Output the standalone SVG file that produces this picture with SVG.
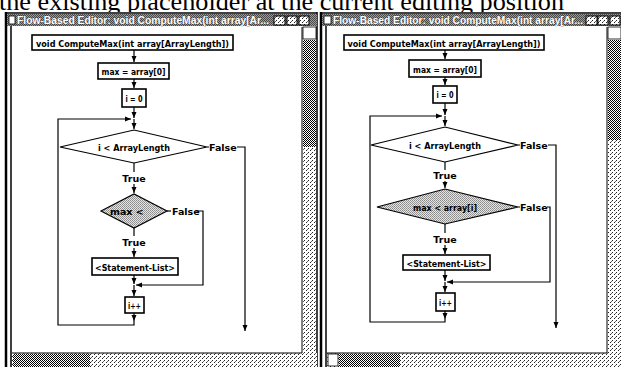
<svg xmlns="http://www.w3.org/2000/svg" width="621" height="367" viewBox="0 0 621 367">
  <defs>
    <!-- ordered-dither fills used by the window chrome -->
    <pattern id="dither50" width="2" height="2" patternUnits="userSpaceOnUse">
      <rect width="2" height="2" fill="#fff"/>
      <rect width="1" height="1" fill="#000"/>
      <rect x="1" y="1" width="1" height="1" fill="#000"/>
    </pattern>
    <pattern id="dither25" width="4" height="4" patternUnits="userSpaceOnUse">
      <rect width="4" height="4" fill="#fff"/>
      <rect width="1" height="1" fill="#222"/>
      <rect x="2" y="2" width="1" height="1" fill="#222"/>
      <rect x="3" y="1" width="1" height="1" fill="#666"/>
    </pattern>
    <pattern id="ditherTitle" width="2" height="2" patternUnits="userSpaceOnUse">
      <rect width="2" height="2" fill="#9a9a9a"/>
      <rect width="1" height="1" fill="#4a4a4a"/>
      <rect x="1" y="1" width="1" height="1" fill="#4a4a4a"/>
    </pattern>
    <pattern id="ditherSel" width="2" height="2" patternUnits="userSpaceOnUse">
      <rect width="2" height="2" fill="#e4e4e4"/>
      <rect width="1" height="1" fill="#8a8a8a"/>
      <rect x="1" y="1" width="1" height="1" fill="#9a9a9a"/>
    </pattern>
    <marker id="ah" viewBox="0 0 6 6" refX="6" refY="3" markerWidth="6" markerHeight="6" markerUnits="userSpaceOnUse" orient="auto">
      <path d="M0,0.5 L6,3 L0,5.5 Z" fill="#000"/>
    </marker>
    <style>
      .heading { font-family: "Liberation Serif", serif; font-size: 26px; fill: #000; }
      .title { font-family: "Liberation Sans", Arial, sans-serif; font-size: 10px; font-weight: bold; fill: #fff; stroke: #111; stroke-width: 0.35px; paint-order: stroke; }
      .node { fill: #fff; stroke: #000; stroke-width: 1.6; }
      .cond { fill: #fff; stroke: #000; stroke-width: 1.2; }
      .condsel { fill: url(#ditherSel); stroke: #000; stroke-width: 1.2; }
      .lbl { font-family: "DejaVu Sans", "Liberation Sans", sans-serif; font-size: 9.5px; font-weight: bold; fill: #000; text-anchor: middle; }
      .lblS { font-family: "DejaVu Sans", "Liberation Sans", sans-serif; font-size: 9.5px; font-weight: bold; fill: #000; }
      .edge { fill: none; stroke: #000; stroke-width: 1.2; }
      .frame { stroke: #000; fill: none; }
      .btn { fill: url(#dither25); stroke: #000; stroke-width: 1; }
    </style>
  </defs>

  <rect width="621" height="367" fill="#fff"/>

  <!-- running text line above the screenshots -->
  <text class="heading" x="-1" y="10" textLength="565" lengthAdjust="spacingAndGlyphs">the existing placeholder at the current editing position</text>

  <!-- ===== left editor window ===== -->
  <g id="window-left">
    <rect x="3" y="12" width="314" height="355" fill="#fff"/>
    <line class="frame" x1="6" y1="12" x2="6" y2="367" stroke-width="2.5"/>
    <line class="frame" x1="11" y1="26" x2="11" y2="367" stroke-width="1.5"/>
    <line class="frame" x1="317" y1="12" x2="317" y2="367" stroke-width="1.5"/>
    <line class="frame" x1="5" y1="13" x2="317" y2="13" stroke-width="1.5"/>
    <rect x="7" y="14" width="310" height="12" fill="url(#ditherTitle)"/>
    <rect x="9" y="16" width="6" height="8" fill="#fff" stroke="#000" stroke-width="0.8"/>
    <text class="title" x="17" y="24" textLength="252" lengthAdjust="spacingAndGlyphs">Flow-Based Editor: void ComputeMax(int array[Ar...</text>
    <rect class="btn" x="274" y="16" width="11" height="9"/>
    <rect class="btn" x="287" y="16" width="10" height="9"/>
    <rect class="btn" x="299" y="16" width="10" height="9"/>
    <!-- scroll bars -->
    <rect x="303" y="27" width="13" height="326" fill="url(#dither25)"/>
    <rect x="303" y="27" width="13" height="12" fill="#fff" stroke="#000" stroke-width="0.8"/>
    <rect x="303" y="40" width="13" height="107" fill="url(#dither50)"/>
    <line class="frame" x1="302" y1="27" x2="302" y2="353" stroke-width="1"/>
    <rect x="12" y="353" width="305" height="14" fill="url(#dither25)"/>
    <rect x="13" y="354" width="77" height="13" fill="url(#dither50)"/>
    <line class="frame" x1="12" y1="353" x2="302" y2="353" stroke-width="1"/>
  </g>

  <!-- ===== right editor window ===== -->
  <g id="window-right">
    <rect x="319" y="12" width="302" height="355" fill="#fff"/>
    <line class="frame" x1="321" y1="12" x2="321" y2="367" stroke-width="2.5"/>
    <line class="frame" x1="326" y1="26" x2="326" y2="367" stroke-width="1.5"/>
    <line class="frame" x1="320" y1="13" x2="621" y2="13" stroke-width="1.5"/>
    <rect x="322" y="14" width="299" height="12" fill="url(#ditherTitle)"/>
    <rect x="324" y="16" width="7" height="8" fill="#fff" stroke="#000" stroke-width="0.8"/>
    <text class="title" x="333" y="24" textLength="250" lengthAdjust="spacingAndGlyphs">Flow-Based Editor: void ComputeMax(int array[Ar...</text>
    <rect class="btn" x="586" y="16" width="11" height="9"/>
    <rect class="btn" x="598" y="16" width="10" height="9"/>
    <rect class="btn" x="610" y="16" width="10" height="9"/>
    <!-- scroll bars -->
    <rect x="608" y="27" width="13" height="326" fill="url(#dither25)"/>
    <rect x="608" y="27" width="13" height="12" fill="#fff" stroke="#000" stroke-width="0.8"/>
    <rect x="608" y="40" width="13" height="100" fill="url(#dither50)"/>
    <line class="frame" x1="607" y1="27" x2="607" y2="353" stroke-width="1"/>
    <rect x="327" y="353" width="294" height="14" fill="url(#dither25)"/>
    <rect x="328" y="354" width="10" height="12" fill="#fff" stroke="#000" stroke-width="0.8"/>
    <rect x="339" y="354" width="61" height="13" fill="url(#dither50)"/>
    <line class="frame" x1="327" y1="353" x2="607" y2="353" stroke-width="1"/>
  </g>

  <!-- ===== connectors ===== -->
  <g id="connectors">
    <!-- left flowchart -->
    <path class="edge" d="M134 50 V62" marker-end="url(#ah)"/>
    <path class="edge" d="M134 79 V88" marker-end="url(#ah)"/>
    <path class="edge" d="M134 107 V118" marker-end="url(#ah)"/>
    <path class="edge" d="M134 119 V129" marker-end="url(#ah)"/>
    <path class="edge" d="M207 147 H209"/>
    <path class="edge" d="M237 147 H245 V331" marker-end="url(#ah)"/>
    <path class="edge" d="M134 163 V172"/>
    <path class="edge" d="M134 184 V193" marker-end="url(#ah)"/>
    <path class="edge" d="M167 211 H171"/>
    <path class="edge" d="M196 211 H203 V285 H136" marker-end="url(#ah)"/>
    <path class="edge" d="M134 228 V236"/>
    <path class="edge" d="M134 248 V257" marker-end="url(#ah)"/>
    <path class="edge" d="M134 275 V284" marker-end="url(#ah)"/>
    <path class="edge" d="M134 285 V296" marker-end="url(#ah)"/>
    <path class="edge" d="M134 313 V321" marker-end="url(#ah)"/>
    <path class="edge" d="M134 321 V325 H58 V119 H131" marker-end="url(#ah)"/>

    <!-- right flowchart -->
    <path class="edge" d="M445 50 V59" marker-end="url(#ah)"/>
    <path class="edge" d="M445 77 V85" marker-end="url(#ah)"/>
    <path class="edge" d="M445 103 V115" marker-end="url(#ah)"/>
    <path class="edge" d="M445 116 V126" marker-end="url(#ah)"/>
    <path class="edge" d="M518 145 H520"/>
    <path class="edge" d="M548 145 H556 V328" marker-end="url(#ah)"/>
    <path class="edge" d="M445 162 V170"/>
    <path class="edge" d="M445 181 V188" marker-end="url(#ah)"/>
    <path class="edge" d="M518 207 H520"/>
    <path class="edge" d="M547 207 H550 V282 H447" marker-end="url(#ah)"/>
    <path class="edge" d="M445 224 V233"/>
    <path class="edge" d="M445 245 V254" marker-end="url(#ah)"/>
    <path class="edge" d="M445 270 V281" marker-end="url(#ah)"/>
    <path class="edge" d="M445 282 V292" marker-end="url(#ah)"/>
    <path class="edge" d="M445 311 V319" marker-end="url(#ah)"/>
    <path class="edge" d="M445 319 V322 H370 V116 H442" marker-end="url(#ah)"/>
  </g>

  <!-- ===== left flowchart nodes ===== -->
  <g id="l-signature">
    <rect class="node" x="32" y="35" width="201" height="15"/>
    <text class="lbl" x="132.5" y="46.5" textLength="193" lengthAdjust="spacingAndGlyphs">void ComputeMax(int array[ArrayLength])</text>
  </g>
  <g id="l-init-max">
    <rect class="node" x="98" y="63" width="71" height="16"/>
    <text class="lbl" x="133.5" y="75" textLength="64" lengthAdjust="spacingAndGlyphs">max = array[0]</text>
  </g>
  <g id="l-init-i">
    <rect class="node" x="122" y="89" width="24" height="18"/>
    <text class="lbl" x="134" y="101.5" textLength="17" lengthAdjust="spacingAndGlyphs">i = 0</text>
  </g>
  <g id="l-loop-test">
    <polygon class="cond" points="60,147 134,130 207,147 134,163"/>
    <text class="lbl" x="134" y="151" textLength="72" lengthAdjust="spacingAndGlyphs">i &lt; ArrayLength</text>
    <text class="lblS" x="209" y="151">False</text>
    <text class="lbl" x="134" y="182">True</text>
  </g>
  <g id="l-compare">
    <polygon class="condsel" points="101,211 134,194 167,211 134,228"/>
    <text class="lblS" x="110" y="215">max &lt;</text>
    <text class="lblS" x="172" y="215">False</text>
    <text class="lbl" x="134" y="246">True</text>
  </g>
  <g id="l-statements">
    <rect class="node" x="92" y="258" width="86" height="17"/>
    <text class="lbl" x="135" y="270.5" textLength="80" lengthAdjust="spacingAndGlyphs">&lt;Statement-List&gt;</text>
  </g>
  <g id="l-increment">
    <rect class="node" x="125" y="297" width="19" height="16"/>
    <text class="lbl" x="134.5" y="309" textLength="13" lengthAdjust="spacingAndGlyphs">i++</text>
  </g>

  <!-- ===== right flowchart nodes ===== -->
  <g id="r-signature">
    <rect class="node" x="344" y="35" width="200" height="15"/>
    <text class="lbl" x="444" y="46.5" textLength="193" lengthAdjust="spacingAndGlyphs">void ComputeMax(int array[ArrayLength])</text>
  </g>
  <g id="r-init-max">
    <rect class="node" x="409" y="60" width="72" height="17"/>
    <text class="lbl" x="445" y="72.5" textLength="64" lengthAdjust="spacingAndGlyphs">max = array[0]</text>
  </g>
  <g id="r-init-i">
    <rect class="node" x="433" y="86" width="24" height="17"/>
    <text class="lbl" x="445" y="98" textLength="17" lengthAdjust="spacingAndGlyphs">i = 0</text>
  </g>
  <g id="r-loop-test">
    <polygon class="cond" points="371,145 445,127 518,145 445,162"/>
    <text class="lbl" x="445" y="149" textLength="72" lengthAdjust="spacingAndGlyphs">i &lt; ArrayLength</text>
    <text class="lblS" x="520" y="149">False</text>
    <text class="lbl" x="445" y="179">True</text>
  </g>
  <g id="r-compare">
    <polygon class="condsel" points="377,207 445,189 518,207 445,224"/>
    <text class="lbl" x="445" y="211" textLength="64" lengthAdjust="spacingAndGlyphs">max &lt; array[i]</text>
    <text class="lblS" x="520" y="211">False</text>
    <text class="lbl" x="445" y="243">True</text>
  </g>
  <g id="r-statements">
    <rect class="node" x="403" y="255" width="87" height="15"/>
    <text class="lbl" x="446.5" y="266.5" textLength="80" lengthAdjust="spacingAndGlyphs">&lt;Statement-List&gt;</text>
  </g>
  <g id="r-increment">
    <rect class="node" x="436" y="293" width="19" height="18"/>
    <text class="lbl" x="445.5" y="306" textLength="13" lengthAdjust="spacingAndGlyphs">i++</text>
  </g>
</svg>
